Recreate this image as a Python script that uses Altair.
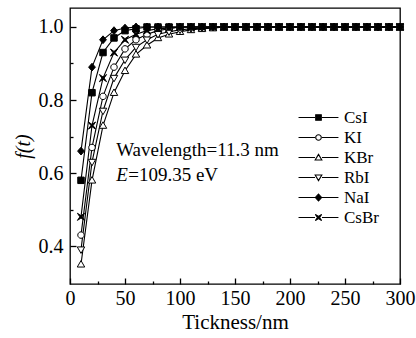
import altair as alt
import pandas as pd

FONT = "Liberation Serif"

# Film thickness (nm) sampled every 10 nm
thickness = [10, 20, 30, 40, 50, 60, 70, 80, 90, 100,
             110, 120, 130, 140, 150, 160, 170, 180, 190, 200,
             210, 220, 230, 240, 250, 260, 270, 280, 290, 300]

series_names = ["CsI", "KI", "KBr", "RbI", "NaI", "CsBr"]

f_csi = [0.58, 0.82, 0.93, 0.97, 0.99, 0.995, 1.0, 1.0, 1.0, 1.0,
         1.0, 1.0, 1.0, 1.0, 1.0, 1.0, 1.0, 1.0, 1.0, 1.0,
         1.0, 1.0, 1.0, 1.0, 1.0, 1.0, 1.0, 1.0, 1.0, 1.0]
f_ki = [0.43, 0.67, 0.81, 0.89, 0.94, 0.965, 0.98, 0.99, 0.995, 1.0,
        1.0, 1.0, 1.0, 1.0, 1.0, 1.0, 1.0, 1.0, 1.0, 1.0,
        1.0, 1.0, 1.0, 1.0, 1.0, 1.0, 1.0, 1.0, 1.0, 1.0]
f_kbr = [0.35, 0.58, 0.73, 0.82, 0.88, 0.925, 0.95, 0.97, 0.98, 0.987,
         0.992, 0.995, 0.997, 1.0, 1.0, 1.0, 1.0, 1.0, 1.0, 1.0,
         1.0, 1.0, 1.0, 1.0, 1.0, 1.0, 1.0, 1.0, 1.0, 1.0]
f_rbi = [0.39, 0.63, 0.77, 0.86, 0.91, 0.945, 0.965, 0.98, 0.987, 0.992,
         0.995, 0.997, 1.0, 1.0, 1.0, 1.0, 1.0, 1.0, 1.0, 1.0,
         1.0, 1.0, 1.0, 1.0, 1.0, 1.0, 1.0, 1.0, 1.0, 1.0]
f_nai = [0.66, 0.89, 0.965, 0.99, 0.997, 1.0, 1.0, 1.0, 1.0, 1.0,
         1.0, 1.0, 1.0, 1.0, 1.0, 1.0, 1.0, 1.0, 1.0, 1.0,
         1.0, 1.0, 1.0, 1.0, 1.0, 1.0, 1.0, 1.0, 1.0, 1.0]
f_csbr = [0.48, 0.73, 0.86, 0.93, 0.965, 0.98, 0.99, 0.995, 0.997, 1.0,
          1.0, 1.0, 1.0, 1.0, 1.0, 1.0, 1.0, 1.0, 1.0, 1.0,
          1.0, 1.0, 1.0, 1.0, 1.0, 1.0, 1.0, 1.0, 1.0, 1.0]

x_major = [0, 50, 100, 150, 200, 250, 300]
x_minor = [25, 75, 125, 175, 225, 275]
y_major = [0.4, 0.6, 0.8, 1.0]
y_minor = [0.5, 0.7, 0.9]

# Marker outlines in Vega's unit symbol space ([-1, 1])
marker_paths = [
    "M-1,-1H1V1H-1Z",                                  # filled square
    "M1,0A1,1 0 1,1 -1,0A1,1 0 1,1 1,0Z",              # open circle
    "M0,-1.15L1.15,0.85H-1.15Z",                       # open triangle up
    "M0,1.15L1.15,-0.85H-1.15Z",                       # open triangle down
    "M0,-1.2L1.05,0L0,1.2L-1.05,0Z",                   # filled diamond
    "M-1.1,-1.1L0,-0.35L1.1,-1.1L0.35,0L1.1,1.1L0,0.35L-1.1,1.1L-0.35,0Z",  # cross
]
marker_fills = ["black", "white", "white", "white", "black", "black"]
marker_strokes = ["black", "black", "black", "black", "black", "black"]

# Legend keys: short line on both sides of a slightly smaller marker
legend_marker_paths = [
    "M-0.8,-0.8H0.8V0.8H-0.8Z",
    "M0.8,0A0.8,0.8 0 1,1 -0.8,0A0.8,0.8 0 1,1 0.8,0Z",
    "M0,-0.9L0.95,0.7H-0.95Z",
    "M0,0.9L0.95,-0.7H-0.95Z",
    "M0,-1L0.9,0L0,1L-0.9,0Z",
    "M-0.9,-0.9L0,-0.3L0.9,-0.9L0.3,0L0.9,0.9L0,0.3L-0.9,0.9L-0.3,0Z",
]
legend_paths = ["M-5.7,0H-1M1,0H5.7" + p for p in legend_marker_paths]

values_by_series = [f_csi, f_ki, f_kbr, f_rbi, f_nai, f_csbr]
rows = []
for name, vals in zip(series_names, values_by_series):
    for t, v in zip(thickness, vals):
        rows.append({"t": t, "f": v, "series": name})
df = pd.DataFrame(rows)

W, H = 330, 276
x_scale = alt.Scale(domain=[0, 300], nice=False, zero=False)
y_scale = alt.Scale(domain=[0.296, 1.052], nice=False, zero=False)


def tick_axis(orient, values, length):
    """Unlabelled axis that only draws inward-pointing tick marks."""
    return alt.Axis(
        orient=orient, values=values, labels=False, domain=False, grid=False,
        title=None, tickColor="black", tickWidth=1.3,
        tickSize=alt.ExprRef(expr=str(-length)),
    )


base = alt.Chart(df)

lines = base.mark_line(color="black", strokeWidth=1.1).encode(
    x=alt.X("t:Q", scale=x_scale, axis=alt.Axis(
        orient="bottom", values=x_major, ticks=False, domain=False, grid=False,
        labelFlush=False, labelFont=FONT, labelFontSize=20, labelColor="black",
        labelPadding=4, title="Tickness/nm", titleFont=FONT, titleFontSize=21,
        titleFontWeight="normal", titleColor="black", titlePadding=3)),
    y=alt.Y("f:Q", scale=y_scale, axis=alt.Axis(
        orient="left", values=y_major, format=".1f", ticks=False, domain=False,
        grid=False, labelFont=FONT, labelFontSize=20, labelColor="black",
        labelPadding=7, title="f(t)", titleFont=FONT, titleFontSize=20,
        titleFontStyle="italic", titleFontWeight="normal", titleColor="black",
        titlePadding=5)),
    detail="series:N",
)

points = base.mark_point(opacity=1, stroke="black", strokeWidth=1, size=42).encode(
    x=alt.X("t:Q", scale=x_scale, axis=tick_axis("bottom", x_major, 6)),
    y=alt.Y("f:Q", scale=y_scale, axis=tick_axis("left", y_major, 6)),
    shape=alt.Shape("series:N", scale=alt.Scale(domain=series_names, range=marker_paths), legend=None),
    fill=alt.Fill("series:N", scale=alt.Scale(domain=series_names, range=marker_fills), legend=None),
)

legend_cfg = alt.Legend(
    title=None, orient="none", legendX=240, legendY=101,
    labelFont=FONT, labelFontSize=17, labelColor="black", labelOffset=17,
    symbolSize=49, symbolStrokeWidth=1.1,
    symbolOpacity=1, rowPadding=2, padding=0,
)
legend_df = pd.DataFrame({"series": series_names})
legend_layer = alt.Chart(legend_df).mark_point(opacity=0, strokeWidth=1.1).encode(
    shape=alt.Shape("series:N", scale=alt.Scale(domain=series_names, range=legend_paths), legend=legend_cfg),
    fill=alt.Fill("series:N", scale=alt.Scale(domain=series_names, range=marker_fills), legend=legend_cfg),
    stroke=alt.Stroke("series:N", scale=alt.Scale(domain=series_names, range=marker_strokes), legend=legend_cfg),
)

# Measurement conditions annotation; this layer also carries the minor ticks
note_df = pd.DataFrame({"t": [42], "f": [0.663]})
note_e_df = pd.DataFrame({"t": [42], "f": [0.595]})
note1 = alt.Chart(note_df).mark_text(
    text="Wavelength=11.3 nm", align="left", baseline="middle",
    font=FONT, fontSize=19, color="black").encode(
    x=alt.X("t:Q", scale=x_scale, axis=tick_axis("bottom", x_minor, 3)),
    y=alt.Y("f:Q", scale=y_scale, axis=tick_axis("left", y_minor, 3)))
note2a = alt.Chart(note_e_df).mark_text(
    text="E", align="left", baseline="middle", fontStyle="italic",
    font=FONT, fontSize=19, color="black").encode(
    x=alt.X("t:Q", scale=x_scale, axis=None), y=alt.Y("f:Q", scale=y_scale, axis=None))
note2b = alt.Chart(note_e_df).mark_text(
    text="=109.35 eV", align="left", baseline="middle", dx=12,
    font=FONT, fontSize=19, color="black").encode(
    x=alt.X("t:Q", scale=x_scale, axis=None), y=alt.Y("f:Q", scale=y_scale, axis=None))

chart = alt.layer(lines, points, legend_layer, note1, note2a, note2b).resolve_axis(
    x="independent", y="independent"
).resolve_scale(
    shape="independent", fill="independent", stroke="independent"
).properties(
    width=W, height=H,
    autosize=alt.AutoSizeParams(type="none"),
    padding={"left": 70, "top": 8, "right": 16, "bottom": 54},
    background="white",
).configure_view(
    stroke="black", strokeWidth=1.3
)

chart.save("out.html", embed_options={"renderer": "svg", "actions": False})
